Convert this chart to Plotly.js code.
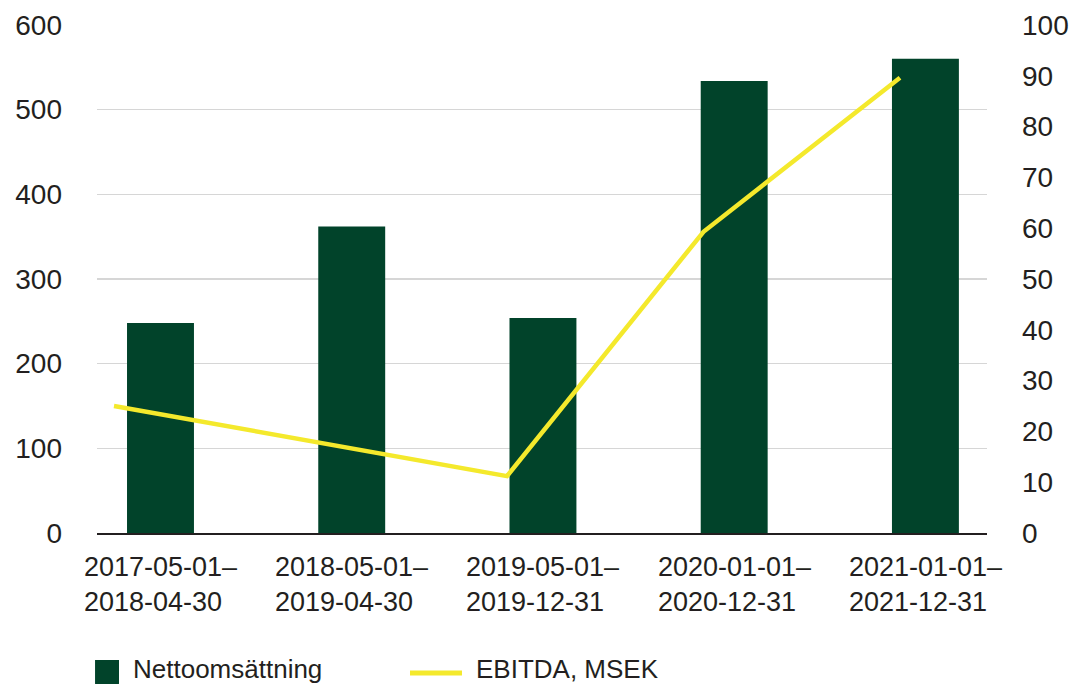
<!DOCTYPE html>
<html>
<head>
<meta charset="utf-8">
<script src="https://cdn.plot.ly/plotly-3.0.1.min.js"></script>
<style>
  html, body { margin: 0; padding: 0; background: #ffffff; }
  #chart { width: 1073px; height: 686px; }
</style>
</head>
<body>
<div id="chart"></div>
<script>
// ---- data ----
const periodStart = ['2017-05-01', '2018-05-01', '2019-05-01', '2020-01-01', '2021-01-01'];
const periodEnd   = ['2018-04-30', '2019-04-30', '2019-12-31', '2020-12-31', '2021-12-31'];
const categories  = periodStart.map((s, i) => s + '/' + periodEnd[i]);
const netSales    = [248, 362, 254, 534, 560];     // Nettoomsättning (left axis)
const ebitda      = [25, 18, 11.2, 59.3, 89.6];    // EBITDA, MSEK (right axis)
const seriesNames = ['Nettoomsättning', 'EBITDA, MSEK'];
const leftTicks   = [0, 100, 200, 300, 400, 500, 600];
const rightTicks  = [0, 10, 20, 30, 40, 50, 60, 70, 80, 90, 100];

// ---- style ----
const GREEN = '#01432a';
const YELLOW = '#f4e92c';
const TEXT = '#231f20';
const FONT = 'Liberation Sans, Arial, Helvetica, sans-serif';

const traces = [
  {
    type: 'bar',
    x: categories,
    y: netSales,
    name: seriesNames[0],
    marker: { color: GREEN, line: { width: 0 } },
    width: 0.35,
    xaxis: 'x',
    yaxis: 'y',
    showlegend: false,
    hoverinfo: 'y'
  },
  {
    type: 'scatter',
    mode: 'lines',
    x: categories,
    y: ebitda,
    name: seriesNames[1],
    line: { color: YELLOW, width: 4.5 },
    xaxis: 'x2',
    yaxis: 'y2',
    showlegend: false,
    hoverinfo: 'y'
  }
];

// x-axis labels (two lines, left aligned within their block)
const xLabelAnns = categories.map((c, i) => ({
  xref: 'x', yref: 'paper',
  x: c, y: 0,
  xanchor: 'center', yanchor: 'top',
  align: 'left',
  yshift: -18,
  borderpad: 0,
  showarrow: false,
  text: periodStart[i] + '–<br>' + periodEnd[i],
  font: { family: FONT, size: 27, color: TEXT }
}));

// legend (manual, to match large key glyphs)
const legendAnns = [
  {
    xref: 'paper', yref: 'paper', x: 0.0393, y: -0.2677,
    xanchor: 'left', yanchor: 'middle', showarrow: false, borderpad: 0,
    text: seriesNames[0], font: { family: FONT, size: 26, color: TEXT }
  },
  {
    xref: 'paper', yref: 'paper', x: 0.4247, y: -0.2677,
    xanchor: 'left', yanchor: 'middle', showarrow: false, borderpad: 0,
    text: seriesNames[1], font: { family: FONT, size: 26, color: TEXT }
  }
];
const legendShapes = [
  { type: 'rect', xref: 'paper', yref: 'paper',
    x0: -0.0022, x1: 0.0247, y0: -0.2972, y1: -0.25,
    fillcolor: GREEN, line: { width: 0 } },
  { type: 'line', xref: 'paper', yref: 'paper',
    x0: 0.3517, x1: 0.4101, y0: -0.2756, y1: -0.2756,
    line: { color: YELLOW, width: 5 } }
];

const layout = {
  width: 1073,
  height: 686,
  margin: { l: 97, r: 86, t: 25, b: 153 },
  paper_bgcolor: '#ffffff',
  plot_bgcolor: '#ffffff',
  font: { family: FONT, size: 26, color: TEXT },
  showlegend: false,
  xaxis: {
    type: 'category',
    range: [-0.332, 4.322],
    showticklabels: false,
    showgrid: false,
    zeroline: false,
    showline: true,
    linecolor: TEXT,
    linewidth: 1.5,
    ticks: '',
    fixedrange: true
  },
  xaxis2: {
    type: 'category',
    overlaying: 'x',
    range: [-0.0865, 4.443],
    visible: false,
    fixedrange: true
  },
  yaxis: {
    range: [0, 600],
    tickvals: leftTicks,
    ticktext: leftTicks.map(String),
    showgrid: true,
    gridcolor: '#d6d6d6',
    gridwidth: 1.5,
    zeroline: false,
    showline: false,
    ticks: '',
    ticklabelstandoff: 34,
    tickfont: { family: FONT, size: 28, color: TEXT },
    fixedrange: true
  },
  yaxis2: {
    range: [0, 100],
    overlaying: 'y',
    side: 'right',
    tickvals: rightTicks,
    ticktext: rightTicks.map(String),
    showgrid: false,
    zeroline: false,
    showline: false,
    ticks: '',
    ticklabelstandoff: 34,
    tickfont: { family: FONT, size: 28, color: TEXT },
    fixedrange: true
  },
  annotations: xLabelAnns.concat(legendAnns),
  shapes: legendShapes
};

Plotly.newPlot('chart', traces, layout, { displayModeBar: false, staticPlot: true });
</script>
</body>
</html>
